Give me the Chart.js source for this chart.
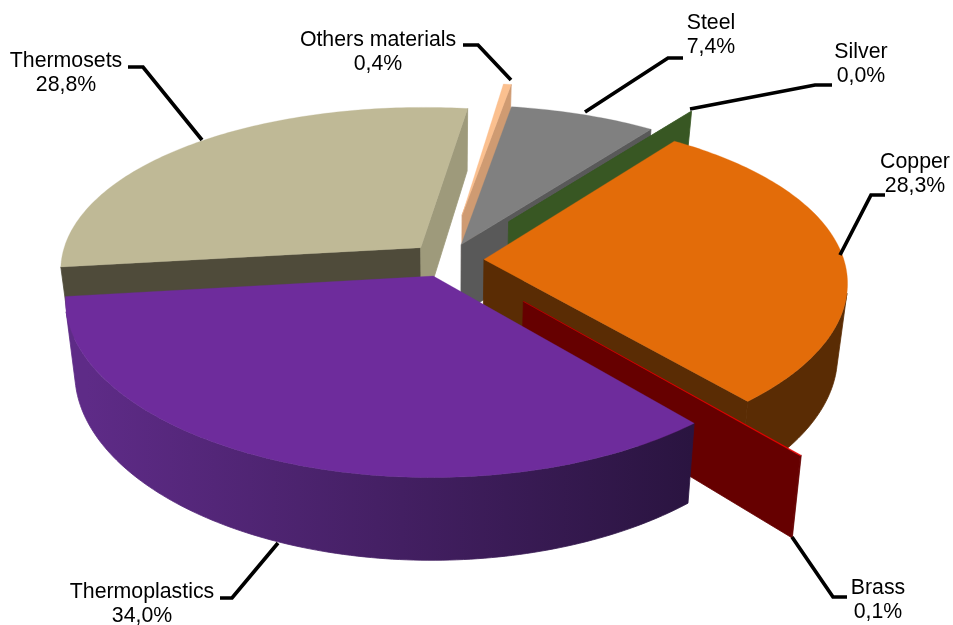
<!DOCTYPE html>
<html>
<head>
<meta charset="utf-8">
<style>html,body{margin:0;padding:0;background:#fff}#w{width:953px;height:625px}</style>
<script src="https://cdn.jsdelivr.net/npm/chart.js@4"></script>
</head>
<body>
<div id="w"><canvas id="c" width="953" height="625"></canvas></div>
<script>
// Data (clockwise from the first slice)
const categories = ['Others materials','Steel','Silver','Copper','Brass','Thermoplastics','Thermosets'];
const shares = [0.4,7.4,0.04,28.3,0.06,34.0,28.8];
// Styles
const topColors  = ['#fbc08f','#808080','#385723','#e36c09','#f00000','#6e2c9c','#bfb996'];
const faceColors = ['#cf9b72','#595959','#385723','#5a2c04','#660000','#2a1440','#9e9a7b'];
const startFaces = ['#cf9b72','#595959','#385723','#5a2c04','#660000','#2a1440','#4f4b3a'];
const wallLeft   = ['#cf9b72','#595959','#385723','#5a2c04','#660000','#5e2b87','#4f4b3a'];
const wallRight  = ['#cf9b72','#595959','#385723','#5a2c04','#660000','#2a1440','#4f4b3a'];
const explode    = [103,37,107,37,114,37,38];
const paintOrder = [6,0,1,2,3,4,5];
// Camera
const TILT = 0.46, PERSP = 0.13, DEPTH = 71, TAPER = 0.025, YPOW = 1.18;
// Label layout: text centre, line 1 y, leader polyline
const labelLayout = [
 {x:378,y:40,line:[[463,45],[478,45],[511,80]]},
 {x:711,y:23,line:[[683,58],[668,58],[585,112]]},
 {x:861,y:52,line:[[832,85],[815,85],[690,109]]},
 {x:915,y:162,line:[[885,195],[871,195],[840,255]]},
 {x:878,y:588,line:[[847,597],[833,597],[792,537]]},
 {x:142,y:592,line:[[220,598],[232,598],[278,543]]},
 {x:66,y:61,line:[[128,67],[143,67],[202,140]]}
];
function project(arc, a, r, z, e){
  const R = arc.outerRadius, m = (arc.startAngle+arc.endAngle)/2;
  const u = (r*Math.cos(a)+e*Math.cos(m))/R, v = (r*Math.sin(a)+e*Math.sin(m))/R;
  const s = 1/(1-v*PERSP), zs = 1-TAPER*z;
  return [arc.x+R*u*s*zs, arc.y+R*v*TILT*Math.pow(s,YPOW)+DEPTH*z*s];
}
function poly(ctx, pts, fill, edge){
  ctx.beginPath();
  pts.forEach((p,i)=> i?ctx.lineTo(p[0],p[1]):ctx.moveTo(p[0],p[1]));
  ctx.closePath(); ctx.fillStyle = fill; ctx.fill();
  if(edge){ ctx.strokeStyle = fill; ctx.lineWidth = edge; ctx.stroke(); }
}
function visible(p,q,d){ return (q[0]-p[0])*(d[1]-p[1])-(q[1]-p[1])*(d[0]-p[0]) < 0; }
function paintSlice(ctx, arc, i){
  const e = arc.options.offset||0, R = arc.outerRadius;
  const n = Math.max(2, Math.ceil((arc.endAngle-arc.startAngle)/(Math.PI/180)));
  const angs = []; for(let k=0;k<=n;k++) angs.push(arc.startAngle+(arc.endAngle-arc.startAngle)*k/n);
  const apexT = project(arc,0,0,0,e), apexB = project(arc,0,0,1,e);
  const topRim = angs.map(a=>project(arc,a,R,0,e)), botRim = angs.map(a=>project(arc,a,R,1,e));
  // radial cut faces
  if(visible(apexT,topRim[0],apexB)) poly(ctx,[apexT,topRim[0],botRim[0],apexB],startFaces[i],0.8);
  if(visible(topRim[n],apexT,botRim[n])) poly(ctx,[topRim[n],apexT,apexB,botRim[n]],faceColors[i],0.8);
  // outer wall
  let fill = wallLeft[i];
  if(wallLeft[i]!==wallRight[i]){
    fill = ctx.createLinearGradient(arc.x-R,0,arc.x+R*0.68,0);
    fill.addColorStop(0,wallLeft[i]); fill.addColorStop(1,wallRight[i]);
  }
  let t=[],b=[];
  for(let k=0;k<n;k++){
    if(visible(topRim[k],topRim[k+1],botRim[k])){
      if(!t.length){t.push(topRim[k]);b.push(botRim[k]);}
      t.push(topRim[k+1]);b.push(botRim[k+1]);
    }
  }
  if(t.length) poly(ctx,t.concat(b.slice().reverse()),fill,0.8);
  // top surface
  poly(ctx,[apexT].concat(topRim),topColors[i],0.3);
}
const pie3d = {
  id:'pie3d',
  beforeDatasetDraw(chart,args){
    const ctx = chart.ctx, arcs = args.meta.data;
    ctx.save();
    paintOrder.forEach(i=>paintSlice(ctx,arcs[i],i));
    ctx.restore();
    return false;
  },
  afterDraw(chart){
    const ctx = chart.ctx;
    ctx.save();
    ctx.strokeStyle='#000'; ctx.lineWidth=3.7; ctx.lineJoin='miter';
    labelLayout.forEach(l=>{
      ctx.beginPath();
      l.line.forEach((p,i)=> i?ctx.lineTo(p[0],p[1]):ctx.moveTo(p[0],p[1]));
      ctx.stroke();
    });
    ctx.fillStyle='#000'; ctx.font='21.3px "Liberation Sans", Arial, sans-serif';
    ctx.textAlign='center'; ctx.textBaseline='middle';
    categories.forEach((name,i)=>{
      const l = labelLayout[i];
      ctx.fillText(name,l.x,l.y);
      ctx.fillText(shares[i].toFixed(1).replace('.',',')+'%',l.x,l.y+24.5);
    });
    ctx.restore();
  }
};
new Chart(document.getElementById('c'),{
  type:'pie',
  data:{labels:categories,datasets:[{data:shares,backgroundColor:topColors,borderWidth:0,offset:explode,hoverOffset:0}]},
  options:{
    responsive:false,animation:false,rotation:8,radius:360,
    layout:{padding:{right:59,bottom:105}},
    plugins:{legend:{display:false},tooltip:{enabled:false}},
    events:[]
  },
  plugins:[pie3d]
});
</script>
</body>
</html>
